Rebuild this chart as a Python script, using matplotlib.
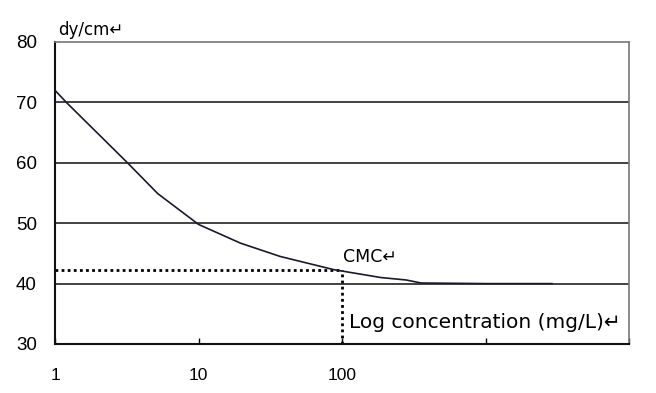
import matplotlib
matplotlib.use("Agg")
from matplotlib import pyplot as plt

# surface tension vs concentration
conc = [1, 1.2, 3.2, 5.2, 10, 19.6, 37, 88, 187, 280, 355, 1000, 2900]
tension = [72, 70, 60, 54.9, 49.8, 46.7, 44.5, 42.3, 41.0, 40.6, 40.1, 40, 40]
cmc_x = 100
cmc_y = 42.3
x_ticks = [1, 10, 100, 1000, 10000]
x_labels = ["1", "10", "100", "", ""]
y_ticks = [30, 40, 50, 60, 70, 80]

plt.rcParams["font.family"] = ["DejaVu Sans"]

fig = plt.figure(figsize=(6.56, 3.93), dpi=100)
ax = fig.add_axes([55 / 656, 1 - 344 / 393, (629 - 55) / 656, (344 - 42) / 393])

ax.set_xscale("log")
ax.set_xlim(1, 10000)
ax.set_ylim(30, 80)

for v in [40, 50, 60, 70]:
    ax.axhline(v, color="#222222", lw=1.2, zorder=1)

ax.plot(conc, tension, color="#1a1a2e", lw=1.2, zorder=3)

# CMC guides
ax.plot([1, cmc_x], [cmc_y, cmc_y], color="black", lw=2, ls=(0, (1, 1.2)), zorder=2)
ax.plot([cmc_x, cmc_x], [30, cmc_y], color="black", lw=2, ls=(0, (1, 1.2)), zorder=2)

ax.set_xticks(x_ticks)
ax.set_xticklabels(x_labels, family="Liberation Sans")
ax.minorticks_off()
ax.set_yticks(y_ticks)
ax.set_yticklabels([str(v) for v in y_ticks], family="Liberation Sans")
ax.tick_params(axis="x", direction="in", length=4, width=1, pad=17, labelsize=12.5)
ax.tick_params(axis="y", length=0, pad=13, labelsize=13.5)

for s in ["left", "bottom"]:
    ax.spines[s].set_color("#111111")
    ax.spines[s].set_linewidth(1.5)
for s in ["top", "right"]:
    ax.spines[s].set_color("#777777")
    ax.spines[s].set_linewidth(1.2)

fig.text(58 / 656, 1 - 30 / 393, "dy/cm\u21b5", fontsize=12, va="center", ha="left")
ax.text(101, 44.4, "CMC\u21b5", fontsize=12.5, va="center", ha="left")
ax.text(112, 33.5, "Log concentration (mg/L)\u21b5", fontsize=14.5, va="center", ha="left")

fig.savefig("out.png", dpi=100, facecolor="white")
